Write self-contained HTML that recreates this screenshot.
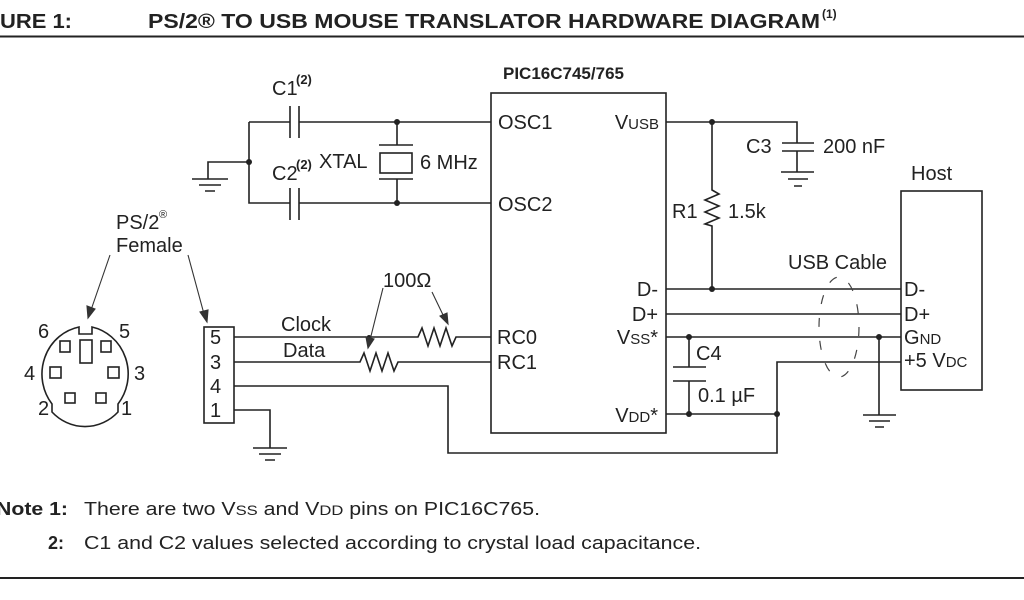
<!DOCTYPE html>
<html><head><meta charset="utf-8"><style>
html,body{margin:0;padding:0;background:#fff;}
svg{display:block;}
text{font-family:"Liberation Sans",sans-serif;fill:#222;}
</style></head><body>
<svg width="1024" height="600" viewBox="0 0 1024 600" xmlns="http://www.w3.org/2000/svg">
<g font-weight="bold" font-size="20">
<text x="0" y="28" textLength="72" lengthAdjust="spacingAndGlyphs">URE 1:</text>
<text x="148" y="28" textLength="672" lengthAdjust="spacingAndGlyphs">PS/2® TO USB MOUSE TRANSLATOR HARDWARE DIAGRAM</text>
<text x="822" y="18" font-size="12">(1)</text>
</g>
<line x1="0" y1="36.5" x2="1024" y2="36.5" stroke="#222" stroke-width="2"/>
<line x1="0" y1="578" x2="1024" y2="578" stroke="#222" stroke-width="2"/>

<g stroke="#222" stroke-width="1.6" fill="none">
<rect x="491" y="93" width="175" height="340"/>
<path d="M249 122 H290 M299 122 H491 M249 122 V203 H290 M299 203 H491"/>
<path d="M290 106 V138 M299 106 V138 M290 188 V220 M299 188 V220"/>
<path d="M249 162 H208 V179 M192 179 H228 M199 185 H221 M205 191 H215"/>
<path d="M397 122 V145 M379 145 H413 M379 179 H413 M397 179 V203"/>
<rect x="380" y="153" width="32" height="20"/>
<rect x="204" y="327" width="30" height="96"/>
<path d="M234 337 H418 l4 -9 l6 18 l6 -18 l6 18 l6 -18 l6 18 l4 -9 H491"/>
<path d="M234 362 H360 l4 -9 l6 18 l6 -18 l6 18 l6 -18 l6 18 l4 -9 H491"/>
<path d="M234 386 H448 V453 H777 V362 H901"/>
<path d="M234 410 H270 V448 M253 448 H287 M259 454 H281 M265 460 H275"/>
<path d="M666 122 H797 V143 M782 143 H814 M782 151 H814 M797 151 V172 M781 172 H814 M788 179 H808 M794 186 H802"/>
<path d="M712 122 V190 l7 4 l-14 6 l14 6 l-14 6 l14 6 l-14 6 l7 2 V289"/>
<path d="M666 289 H901 M666 314 H901 M666 337 H901"/>
<path d="M689 337 V367 M673 367 H706 M673 381 H706 M689 381 V414 M666 414 H777"/>
<path d="M879 337 V415 M863 415 H896 M869 421 H890 M875 427 H884"/>
<rect x="901" y="191" width="81" height="199"/>
<path d="M79 327 V334 H92 V327 A46 48 0 0 1 118 404 V412 A46 48 0 0 1 52 412 V404 A46 48 0 0 1 79 327 Z"/>
<rect x="60" y="341" width="10" height="11"/><rect x="101" y="341" width="10" height="11"/>
<rect x="80" y="340" width="12" height="23"/>
<rect x="50" y="367" width="11" height="11"/><rect x="108" y="367" width="11" height="11"/>
<rect x="65" y="393" width="10" height="10"/><rect x="96" y="393" width="10" height="10"/>
</g>
<g fill="#222">
<circle cx="249" cy="162" r="3"/><circle cx="397" cy="122" r="3"/><circle cx="397" cy="203" r="3"/>
<circle cx="712" cy="122" r="3"/><circle cx="712" cy="289" r="3"/>
<circle cx="689" cy="337" r="3"/><circle cx="879" cy="337" r="3"/>
<circle cx="689" cy="414" r="3"/><circle cx="777" cy="414" r="3"/>
<circle cx="369" cy="337" r="2"/>
</g>
<ellipse cx="839" cy="327" rx="20" ry="50" fill="none" stroke="#444" stroke-width="1.2" stroke-dasharray="9 14"/>
<g stroke="#333" stroke-width="1.1" fill="#333">
<line x1="110" y1="255" x2="91" y2="310"/><polygon points="88,318 87,306 95,309"/>
<line x1="188" y1="255" x2="204" y2="314"/><polygon points="207,322 200,312 208,310"/>
<line x1="383" y1="288" x2="370" y2="340"/><polygon points="368,348 366,337 374,339"/>
<line x1="432" y1="292" x2="444" y2="317"/><polygon points="448,324 440,316 447,313"/>
</g>
<g font-size="20">
<text x="272" y="95">C1</text><text x="296" y="84" font-size="13" font-weight="bold">(2)</text>
<text x="272" y="180">C2</text><text x="296" y="169" font-size="13" font-weight="bold">(2)</text>
<text x="319" y="168">XTAL</text>
<text x="420" y="169">6 MHz</text>
<text x="503" y="79" font-weight="bold" font-size="17">PIC16C745/765</text>
<text x="498" y="129">OSC1</text>
<text x="498" y="211">OSC2</text>
<text x="659" y="129" text-anchor="end">V<tspan font-size="15">USB</tspan></text>
<text x="658" y="296" text-anchor="end">D-</text>
<text x="658" y="321" text-anchor="end">D+</text>
<text x="658" y="344" text-anchor="end">V<tspan font-size="15">SS</tspan>*</text>
<text x="658" y="422" text-anchor="end">V<tspan font-size="15">DD</tspan>*</text>
<text x="497" y="344">RC0</text>
<text x="497" y="369">RC1</text>
<text x="746" y="153">C3</text>
<text x="823" y="153">200 nF</text>
<text x="672" y="218">R1</text>
<text x="728" y="218">1.5k</text>
<text x="911" y="180">Host</text>
<text x="788" y="269">USB Cable</text>
<text x="904" y="296">D-</text>
<text x="904" y="321">D+</text>
<text x="904" y="344">G<tspan font-size="15">ND</tspan></text>
<text x="904" y="367">+5 V<tspan font-size="15">DC</tspan></text>
<text x="696" y="360">C4</text>
<text x="698" y="402">0.1 µF</text>
<text x="383" y="287">100Ω</text>
<text x="281" y="331">Clock</text>
<text x="283" y="357">Data</text>
<text x="116" y="229">PS/2</text><text x="159" y="218" font-size="11">®</text>
<text x="116" y="252">Female</text>
<text x="210" y="344">5</text><text x="210" y="369">3</text><text x="210" y="393">4</text><text x="210" y="417">1</text>
<text x="38" y="338">6</text><text x="119" y="338">5</text>
<text x="24" y="380">4</text><text x="134" y="380">3</text>
<text x="38" y="415">2</text><text x="121" y="415">1</text>
</g>
<g font-size="18">
<text x="-4" y="515" font-weight="bold" textLength="72" lengthAdjust="spacingAndGlyphs">Note 1:</text>
<text x="84" y="515" textLength="456" lengthAdjust="spacingAndGlyphs">There are two V<tspan font-size="14">SS</tspan> and V<tspan font-size="14">DD</tspan> pins on PIC16C765.</text>
<text x="48" y="549" font-weight="bold">2:</text>
<text x="84" y="549" textLength="617" lengthAdjust="spacingAndGlyphs">C1 and C2 values selected according to crystal load capacitance.</text>
</g>
</svg>
</body></html>
